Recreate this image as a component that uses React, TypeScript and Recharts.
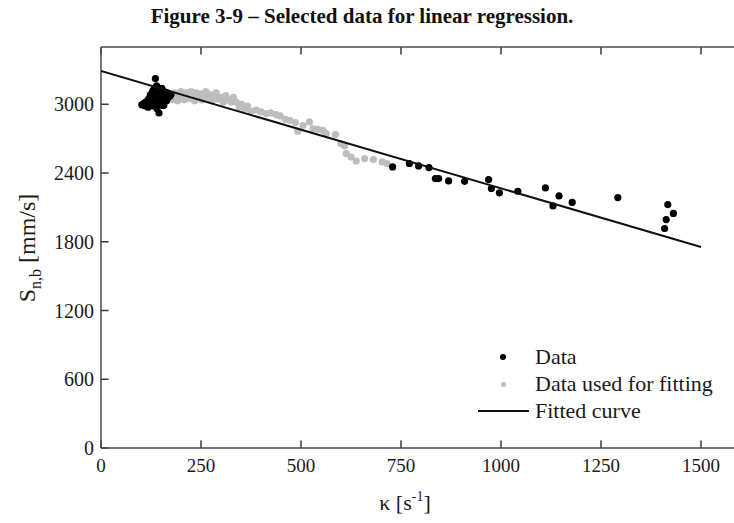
import React from 'react';
import { ComposedChart, Scatter, XAxis, YAxis, Legend, ReferenceLine } from 'recharts';

// ---- data ----
const xTicks = [0, 250, 500, 750, 1000, 1250, 1500];
const yTicks = [0, 600, 1200, 1800, 2400, 3000];

// Data (black) : kappa [1/s], S_n,b [mm/s]
const dataKappa = [
  102, 105, 108, 110, 112, 115, 117, 118, 120, 122, 123, 125, 126, 128, 129, 130, 131, 132, 134, 135, 136,
  137, 138, 139, 140, 141, 142, 143, 145, 146, 147, 148, 150, 151, 152, 154, 155, 157, 158, 160, 162,
  164, 166, 168, 170, 172, 175,
  729, 771, 794, 820, 836, 844, 869, 909, 969, 976, 996, 1042, 1111, 1130, 1145, 1178, 1292, 1417, 1431,
  1413, 1409,
];
const dataS = [
  2995, 3000, 3010, 2985, 3020, 3000, 3035, 2975, 3050, 3010, 3080, 2990, 3060, 3100, 3030, 3120, 2985, 3070,
  3140, 3010, 3224, 3095, 3050, 3160, 2960, 3110, 3030, 3080, 2924, 3130, 3000, 3060, 3100, 3020, 3140,
  3070, 2990, 2991, 3110, 3050, 3080, 3030, 3100, 3060, 3090, 3070, 3085,
  2453, 2483, 2462, 2448, 2352, 2352, 2331, 2328, 2343, 2265, 2227, 2241, 2270, 2113, 2200, 2143, 2186,
  2125, 2047, 1994, 1916,
];

// Data used for fitting (grey)
const fitKappa = [
  172, 176, 180, 184, 188, 192, 196, 200, 204, 208, 212, 216, 220, 225, 230, 234, 238, 243, 248, 252,
  256, 262, 268, 272, 278, 283, 288, 294, 300, 306, 312, 318, 325, 331, 338, 346, 352, 359, 366, 375,
  388, 400, 413, 425, 438, 448, 461, 472, 486, 492, 505, 521, 530, 542, 554, 563, 586, 600, 609, 613,
  625, 638, 659, 681, 703, 715,
];
const fitS = [
  3060, 3090, 3040, 3100, 3070, 3030, 3090, 3110, 3060, 3040, 3100, 3075, 3050, 3110, 3080, 3030, 3100,
  3060, 3090, 3040, 3075, 3110, 3050, 3085, 3030, 3070, 3100, 3045, 3060, 3020, 3075, 3040, 3020, 3060,
  3020, 2977, 3000, 2962, 2985, 2939, 2950, 2933, 2919, 2925, 2910, 2898, 2869, 2860, 2840, 2765, 2815,
  2846, 2788, 2782, 2773, 2744, 2736, 2657, 2636, 2570, 2540, 2505, 2526, 2518, 2497, 2483,
];

// Fitted curve end points
const curveKappa = [0, 1500];
const curveS = [3290, 1755];

const X_MAX = 1600;
const Y_MAX = 3500;
const X_TICK_LEN = 19; // in kappa units (~8px)
const Y_TICK_LEN = 66; // in S units (~8px)

const dataPts = dataKappa.map((k, i) => ({ k, s: dataS[i] }));
const fitPts = fitKappa.map((k, i) => ({ k, s: fitS[i] }));
const curvePts = curveKappa.map((k, i) => ({ k, s: curveS[i] }));

const FONT = '"Liberation Serif", "Times New Roman", serif';
const AXIS = '#4a4a4a';
const TICK = '#3a3a3a';
const TXT = '#1a1a1a';

const Dot = (color: string, r: number) => (props: any) =>
  props.cx == null ? null : <circle cx={props.cx} cy={props.cy} r={r} fill={color} />;

const YTick = (p: any) => (
  <text x={Number(p.x)} y={Number(p.y)} dy="0.36em" textAnchor="end" fontFamily={FONT} fontSize={20} fill={TXT}>
    {p.payload.value}
  </text>
);

const XTick = (p: any) => (
  <text x={Number(p.x)} y={Number(p.y)} dy="0.75em" textAnchor="middle" fontFamily={FONT} fontSize={19} fill={TXT}>
    {p.payload.value}
  </text>
);

const renderLegend = () => {
  const row = { display: 'flex', alignItems: 'center', height: 27 } as const;
  const icon = { width: 63, display: 'flex', alignItems: 'center', position: 'relative' as const, height: 27 };
  return (
    <div style={{ fontFamily: FONT, fontSize: 22, color: TXT, lineHeight: '27px' }}>
      <div style={row}>
        <span style={icon}>
          <span style={{ position: 'absolute', left: 28, top: 11, width: 6, height: 6, borderRadius: 3, background: '#000' }} />
        </span>
        <span>Data</span>
      </div>
      <div style={row}>
        <span style={icon}>
          <span style={{ position: 'absolute', left: 28.5, top: 11.5, width: 5, height: 5, borderRadius: 3, background: '#bdbdbd' }} />
        </span>
        <span>Data used for fitting</span>
      </div>
      <div style={row}>
        <span style={icon}>
          <span style={{ position: 'absolute', left: 6, top: 13, width: 51, height: 2, background: '#111' }} />
        </span>
        <span>Fitted curve</span>
      </div>
    </div>
  );
};

const YLabel = () => (
  <text
    transform="translate(35,248) rotate(-90)"
    textAnchor="middle"
    fontFamily={FONT}
    fontSize={24}
    fill={TXT}
  >
    S
    <tspan dy={6} fontSize={16}>n,b</tspan>
    <tspan dy={-6}> [mm/s]</tspan>
  </text>
);

const XLabel = () => (
  <text x={405} y={510} textAnchor="middle" fontFamily={FONT} fontSize={22} fill={TXT}>
    κ [s
    <tspan dy={-9} fontSize={14}>-1</tspan>
    <tspan dy={9}>]</tspan>
  </text>
);

export default function App() {
  return (
    <div style={{ position: 'absolute', left: 0, top: 0, width: 734, height: 523, overflow: 'hidden', background: '#fff' }}>
      <div
        style={{
          position: 'absolute',
          left: 0,
          width: 724,
          top: 4,
          textAlign: 'center',
          fontFamily: FONT,
          fontWeight: 'bold',
          fontSize: 21,
          color: '#111',
          zIndex: 2,
        }}
      >
        Figure 3-9 – Selected data for linear regression.
      </div>
      <ComposedChart width={760} height={523} margin={{ top: 37, right: 19, bottom: 0, left: 0 }}>
        <XAxis
          xAxisId="b"
          type="number"
          dataKey="k"
          domain={[0, X_MAX]}
          ticks={xTicks}
          allowDataOverflow
          height={75}
          tickSize={0}
          tickLine={false}
          tickMargin={10}
          stroke={AXIS}
          strokeWidth={1.5}
          tick={XTick}
          label={{ content: () => <XLabel /> }}
        />
        <XAxis
          xAxisId="t"
          orientation="top"
          type="number"
          dataKey="k"
          domain={[0, X_MAX]}
          ticks={xTicks}
          allowDataOverflow
          height={10}
          tickSize={0}
          tickLine={false}
          tick={false}
          stroke={AXIS}
          strokeWidth={1.5}
        />
        <YAxis
          yAxisId="l"
          type="number"
          dataKey="s"
          domain={[0, Y_MAX]}
          ticks={yTicks}
          allowDataOverflow
          width={101}
          tickSize={0}
          tickLine={false}
          tickMargin={7}
          stroke={AXIS}
          strokeWidth={1.5}
          tick={YTick}
          label={{ content: () => <YLabel /> }}
        />
        {/* inward tick marks */}
        {yTicks.map((v) => (
          <ReferenceLine
            key={'yt' + v}
            xAxisId="b"
            yAxisId="l"
            segment={[{ x: 0, y: v }, { x: X_TICK_LEN, y: v }]}
            stroke={TICK}
            strokeWidth={1.5}
            ifOverflow="visible"
          />
        ))}
        {xTicks.map((v) => (
          <ReferenceLine
            key={'xb' + v}
            xAxisId="b"
            yAxisId="l"
            segment={[{ x: v, y: 0 }, { x: v, y: Y_TICK_LEN }]}
            stroke={TICK}
            strokeWidth={1.5}
            ifOverflow="visible"
          />
        ))}
        {xTicks.map((v) => (
          <ReferenceLine
            key={'xt' + v}
            xAxisId="b"
            yAxisId="l"
            segment={[{ x: v, y: Y_MAX }, { x: v, y: Y_MAX - Y_TICK_LEN }]}
            stroke={TICK}
            strokeWidth={1.5}
            ifOverflow="visible"
          />
        ))}
        <Scatter
          name="Data used for fitting"
          data={fitPts}
          xAxisId="b"
          yAxisId="l"
          fill="#bdbdbd"
          shape={Dot('#bdbdbd', 3.6)}
          isAnimationActive={false}
        />
        <Scatter
          name="Data"
          data={dataPts}
          xAxisId="b"
          yAxisId="l"
          fill="#000"
          shape={Dot('#000', 3.6)}
          isAnimationActive={false}
        />
        <Scatter
          name="Fitted curve"
          data={curvePts}
          xAxisId="b"
          yAxisId="l"
          line={{ stroke: '#111', strokeWidth: 2 }}
          shape={() => null}
          isAnimationActive={false}
        />
        <Legend
          layout="vertical"
          align="center"
          verticalAlign="middle"
          content={renderLegend}
          wrapperStyle={{ position: 'absolute', left: 472, top: 343, width: 262 }}
        />
      </ComposedChart>
    </div>
  );
}
